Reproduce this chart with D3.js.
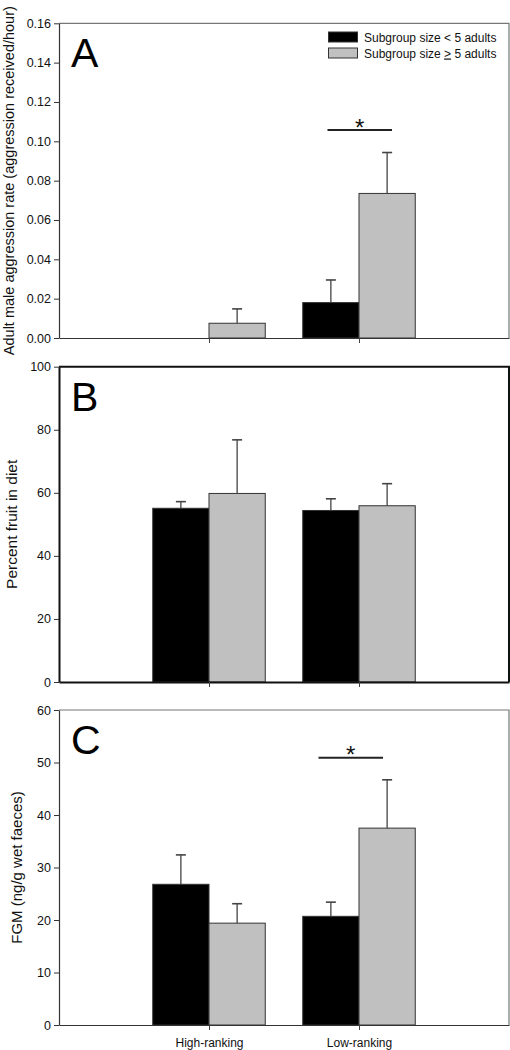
<!DOCTYPE html>
<html><head><meta charset="utf-8">
<script src="https://cdn.jsdelivr.net/npm/d3@7"></script>
<style>body{margin:0;background:#fff}svg{display:block;font-family:"Liberation Sans",Arial,sans-serif}</style>
</head><body><svg id="c" width="510" height="1050"></svg>
<script>
const categories = ["High-ranking", "Low-ranking"];
const seriesNames = ["Subgroup size < 5 adults", "Subgroup size \u2265 5 adults"];

const aggrSmall = [0, 0.018];
const aggrSmallErr = [0, 0.0115];
const aggrLarge = [0.0075, 0.0735];
const aggrLargeErr = [0.0073, 0.0208];

const fruitSmall = [55.1, 54.4];
const fruitSmallErr = [2.1, 3.7];
const fruitLarge = [59.8, 55.9];
const fruitLargeErr = [17.0, 7.0];

const fgmSmall = [26.8, 20.7];
const fgmSmallErr = [5.6, 2.7];
const fgmLarge = [19.4, 37.5];
const fgmLargeErr = [3.7, 9.2];

const ticksA = [0, 0.02, 0.04, 0.06, 0.08, 0.10, 0.12, 0.14, 0.16];
const ticksB = [0, 20, 40, 60, 80, 100];
const ticksC = [0, 10, 20, 30, 40, 50, 60];

const sigA = {y: 0.1057, x0: 1.79, x1: 2.22};
const sigC = {y: 50.9, x0: 1.73, x1: 2.16};

const svg = d3.select("#c");
const L = 59, R = 509;
const x = d3.scaleLinear().domain([0, 3]).range([L, R]);
const bw = x(0.375) - x(0);
const colors = ["#000000", "#c0c0c0"];

const panels = [
  {letter: "A", top: 23.3, bottom: 338, max: 0.16, ticks: ticksA, fmt: d3.format(".2f"),
   series: [[aggrSmall, aggrSmallErr], [aggrLarge, aggrLargeErr]], sig: sigA,
   title: "Adult male aggression rate (aggression received/hour)", tx: 14, ts: 14.5, frame: "#777", fw: 1.2, legend: true},
  {letter: "B", top: 366.7, bottom: 682, max: 100, ticks: ticksB, fmt: d3.format("d"),
   series: [[fruitSmall, fruitSmallErr], [fruitLarge, fruitLargeErr]], sig: null,
   title: "Percent fruit in diet", tx: 17, ts: 15.5, frame: "#111", fw: 2, legend: false},
  {letter: "C", top: 710, bottom: 1025, max: 60, ticks: ticksC, fmt: d3.format("d"),
   series: [[fgmSmall, fgmSmallErr], [fgmLarge, fgmLargeErr]], sig: sigC,
   title: "FGM (ng/g wet faeces)", tx: 22, ts: 15, frame: "#777", fw: 1.2, legend: false, xlabels: true}
];

panels.forEach(p => {
  const y = d3.scaleLinear().domain([0, p.max]).range([p.bottom, p.top]);
  const g = svg.append("g");
  g.append("path").attr("d", `M${L},${p.top}H${R}V${p.bottom}`)
    .attr("fill", "none").attr("stroke", p.frame).attr("stroke-width", p.fw);
  p.series.forEach(([vals, errs], s) => {
    vals.forEach((v, i) => {
      if (v <= 0) return;
      const x0 = s === 0 ? x(i + 1) - bw : x(i + 1);
      g.append("rect").attr("x", x0).attr("y", y(v)).attr("width", bw).attr("height", y(0) - y(v))
        .attr("fill", colors[s]).attr("stroke", "#333").attr("stroke-width", 1);
      const cx = x0 + bw / 2;
      const e = errs[i];
      if (e > 0) {
        g.append("line").attr("x1", cx).attr("x2", cx).attr("y1", y(v)).attr("y2", y(v + e))
          .attr("stroke", "#444").attr("stroke-width", 1.3);
        g.append("line").attr("x1", cx - 5).attr("x2", cx + 5).attr("y1", y(v + e)).attr("y2", y(v + e))
          .attr("stroke", "#444").attr("stroke-width", 1.6);
      }
    });
  });
  const ya = d3.axisLeft(y).tickValues(p.ticks).tickFormat(p.fmt).tickSize(5).tickSizeOuter(0).tickPadding(3);
  const yg = g.append("g").attr("transform", `translate(${L},0)`).call(ya);
  yg.select(".domain").attr("stroke", p.frame === "#111" ? "#111" : "#333").attr("stroke-width", p.fw);
  yg.selectAll(".tick line").attr("stroke", "#333");
  yg.selectAll("text").attr("font-size", 12.5).attr("fill", "#111").attr("font-family", "Liberation Sans, Arial, sans-serif");
  const xa = d3.axisBottom(x).tickValues([1, 2]).tickFormat((d) => p.xlabels ? categories[d - 1] : "").tickSize(5).tickSizeOuter(0).tickPadding(8);
  const xg = g.append("g").attr("transform", `translate(0,${p.bottom})`).call(xa);
  xg.select(".domain").attr("stroke", p.frame === "#111" ? "#111" : "#333").attr("stroke-width", p.fw);
  xg.selectAll(".tick line").attr("stroke", "#444");
  xg.selectAll("text").attr("font-size", 12).attr("fill", "#111").attr("font-family", "Liberation Sans, Arial, sans-serif");
  g.append("text").attr("x", 71).attr("y", p.top + 44).attr("font-size", 41).attr("fill", "#000").text(p.letter);
  g.append("text").attr("transform", `translate(${p.tx},${(p.top + p.bottom) / 2}) rotate(-90)`)
    .attr("text-anchor", "middle").attr("font-size", p.ts).attr("fill", "#111").text(p.title);
  if (p.sig) {
    g.append("line").attr("x1", x(p.sig.x0)).attr("x2", x(p.sig.x1)).attr("y1", y(p.sig.y)).attr("y2", y(p.sig.y))
      .attr("stroke", "#222").attr("stroke-width", 2);
    g.append("text").attr("x", x((p.sig.x0 + p.sig.x1) / 2)).attr("y", y(p.sig.y) + 5.5)
      .attr("text-anchor", "middle").attr("font-size", 24).attr("fill", "#111").text("*");
  }
  if (p.legend) {
    seriesNames.forEach((name, s) => {
      const ly = 32 + s * 16;
      g.append("rect").attr("x", 328.5).attr("y", ly).attr("width", 29).attr("height", 10)
        .attr("fill", colors[s]).attr("stroke", "#333").attr("stroke-width", 1);
      const t = g.append("text").attr("x", 364).attr("y", ly + 9.5).attr("font-size", 12).attr("fill", "#111");
      if (s === 0) t.text(name);
      else {
        const parts = name.split("\u2265");
        t.append("tspan").text(parts[0]);
        t.append("tspan").attr("text-decoration", "underline").text(">");
        t.append("tspan").text(parts[1]);
      }
    });
  }
});
</script></body></html>
